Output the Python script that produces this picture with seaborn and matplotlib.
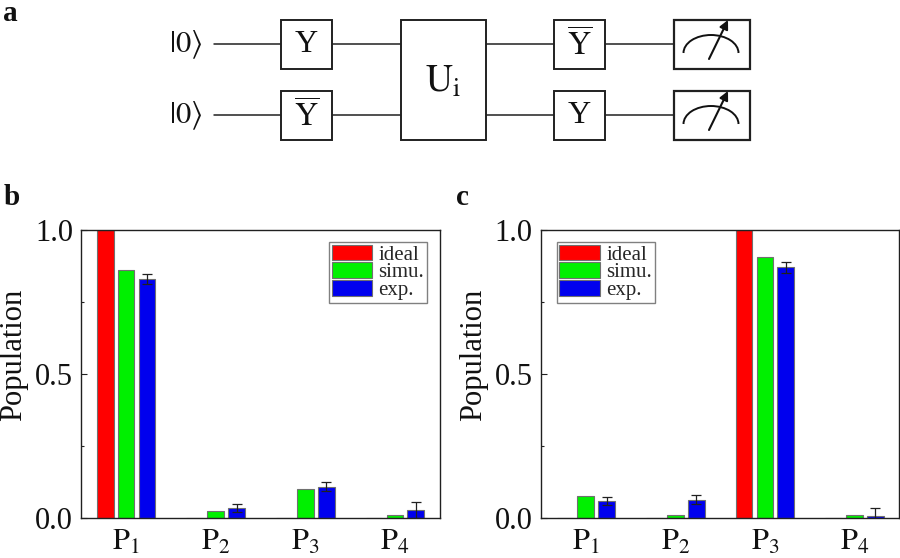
import matplotlib
matplotlib.use("Agg")
import matplotlib.pyplot as plt
from matplotlib.patches import Rectangle, Arc
import numpy as np
import pandas as pd
import seaborn as sns

# --- Data ---
STATES = ["P1", "P2", "P3", "P4"]
STATE_LABELS = [r"$\mathrm{P}_{1}$", r"$\mathrm{P}_{2}$", r"$\mathrm{P}_{3}$", r"$\mathrm{P}_{4}$"]
SERIES = ["ideal", "simu.", "exp."]
COLORS = ["#ff0000", "#00f000", "#0000ee"]

b_ideal = [1.0, 0.0, 0.0, 0.0]
b_simu = [0.861, 0.027, 0.102, 0.010]
b_exp = [0.828, 0.035, 0.110, 0.028]
b_err = [0.017, 0.014, 0.017, 0.027]

c_ideal = [0.0, 0.0, 1.0, 0.0]
c_simu = [0.076, 0.011, 0.904, 0.010]
c_exp = [0.060, 0.065, 0.870, 0.008]
c_err = [0.014, 0.015, 0.019, 0.028]

y_ticks = [0.0, 0.5, 1.0]
y_minor_ticks = [0.25, 0.75]

W, H = 900, 558

sns.set_theme(style="ticks")
plt.rcParams["font.family"] = ["Liberation Serif", "DejaVu Serif"]
plt.rcParams["mathtext.fontset"] = "stix"


def panel(fig, rect, ideal, simu, exp, err, legend_xy):
    left, top, right, bottom = rect
    ax = fig.add_axes([left / W, 1 - bottom / H, (right - left) / W, (bottom - top) / H])

    df = pd.DataFrame({
        "state": STATES * 3,
        "series": np.repeat(SERIES, 4),
        "value": ideal + simu + exp,
    })
    sns.barplot(data=df, x="state", y="value", hue="series", order=STATES, hue_order=SERIES,
                palette=COLORS, saturation=1, width=0.7, gap=0.2, errorbar=None,
                edgecolor="#707070", linewidth=0.8, ax=ax)

    # error bars only on the experiment bars
    exp_bars = ax.containers[2]
    xs = [p.get_x() + p.get_width() / 2 for p in exp_bars]
    ax.errorbar(xs, exp, yerr=err, fmt="none", ecolor="#202020", elinewidth=0.9, capsize=3.4, capthick=0.9)

    ax.set_xlim(-0.5, 3.5)
    ax.set_ylim(0, 1)
    ax.set_yticks(y_ticks)
    ax.set_yticks(y_minor_ticks, minor=True)
    ax.set_yticklabels(["0.0", "0.5", "1.0"], fontsize=22)
    ax.set_xticks(range(4))
    ax.set_xticklabels(STATE_LABELS, fontsize=22)
    ax.tick_params(axis="y", which="major", direction="in", length=4, width=0.8, pad=6, color="#202020", labelcolor="#111111")
    ax.tick_params(axis="y", which="minor", direction="in", length=2.5, width=0.8, color="#202020")
    ax.tick_params(axis="x", length=0, pad=7, labelcolor="#111111")
    ax.set_xlabel("")
    ax.set_ylabel("Population", fontsize=22, color="#111111")
    ax.yaxis.set_label_coords(-0.148, 0.568)
    for s in ax.spines.values():
        s.set_linewidth(1.0)
        s.set_color("#202020")

    sns.move_legend(ax, loc="upper left", bbox_to_anchor=legend_xy, title=None, fontsize=15,
                    frameon=True, fancybox=False, framealpha=1, edgecolor="#808080",
                    handlelength=1.95, handleheight=0.8, labelspacing=-0.12, handletextpad=0.3,
                    borderpad=0.13, borderaxespad=0)
    return ax


def circuit(fig):
    # pixel coordinates, the diagram is not data
    ax = fig.add_axes([0, 0, 1, 1], zorder=-1)
    ax.set_xlim(0, W)
    ax.set_ylim(H, 0)
    ax.axis("off")

    for y in [44, 115]:
        ax.plot([214, 674], [y, y], color="#202020", lw=1.1, zorder=1)
        ax.text(186, y + 1, r"$|0\rangle$", fontsize=22, ha="center", va="center", color="#111111")

    def box(x0, x1, y0, y1, label=None, fs=23, lw=1.4, dy=0):
        ax.add_patch(Rectangle((x0, y0), x1 - x0, y1 - y0, fc="white", ec="#202020", lw=lw, zorder=2))
        if label:
            ax.text((x0 + x1) / 2, (y0 + y1) / 2 + dy, label, fontsize=fs, ha="center", va="center", color="#111111", zorder=3)

    Y = "Y"
    YBAR = r"$\overline{\mathrm{Y}}$"
    box(281, 332, 20, 69, Y)
    box(281, 332, 91, 140, YBAR, dy=1)
    box(401, 486, 20, 140, r"$\mathrm{U}_{\mathrm{i}}$", fs=27, dy=2)
    box(554, 605, 20, 69, YBAR, dy=1)
    box(554, 605, 91, 140, Y)

    for t in [20, 91]:
        box(674, 750, t, t + 49, lw=1.6)
        ax.add_patch(Arc((711, t + 33), 55, 36, theta1=180, theta2=360, color="#111111", lw=1.4, zorder=3))
        ax.annotate("", xy=(728, t), xytext=(709, t + 39), zorder=3,
                    arrowprops=dict(arrowstyle="-|>", color="#111111", lw=1.5, mutation_scale=13, shrinkA=0, shrinkB=0))


fig = plt.figure(figsize=(W / 100, H / 100), dpi=100)
circuit(fig)
panel(fig, (81.3, 229.7, 439.7, 518.3), b_ideal, b_simu, b_exp, b_err, (0.691, 0.958))
panel(fig, (541, 229.7, 899.3, 518.3), c_ideal, c_simu, c_exp, c_err, (0.044, 0.958))

for letter, x, y in [("a", 3, 21), ("b", 4, 205), ("c", 456, 205)]:
    fig.text(x / W, 1 - y / H, letter, fontsize=21, fontweight="bold", color="#111111", ha="left", va="baseline")

fig.savefig("out.png", dpi=100)
